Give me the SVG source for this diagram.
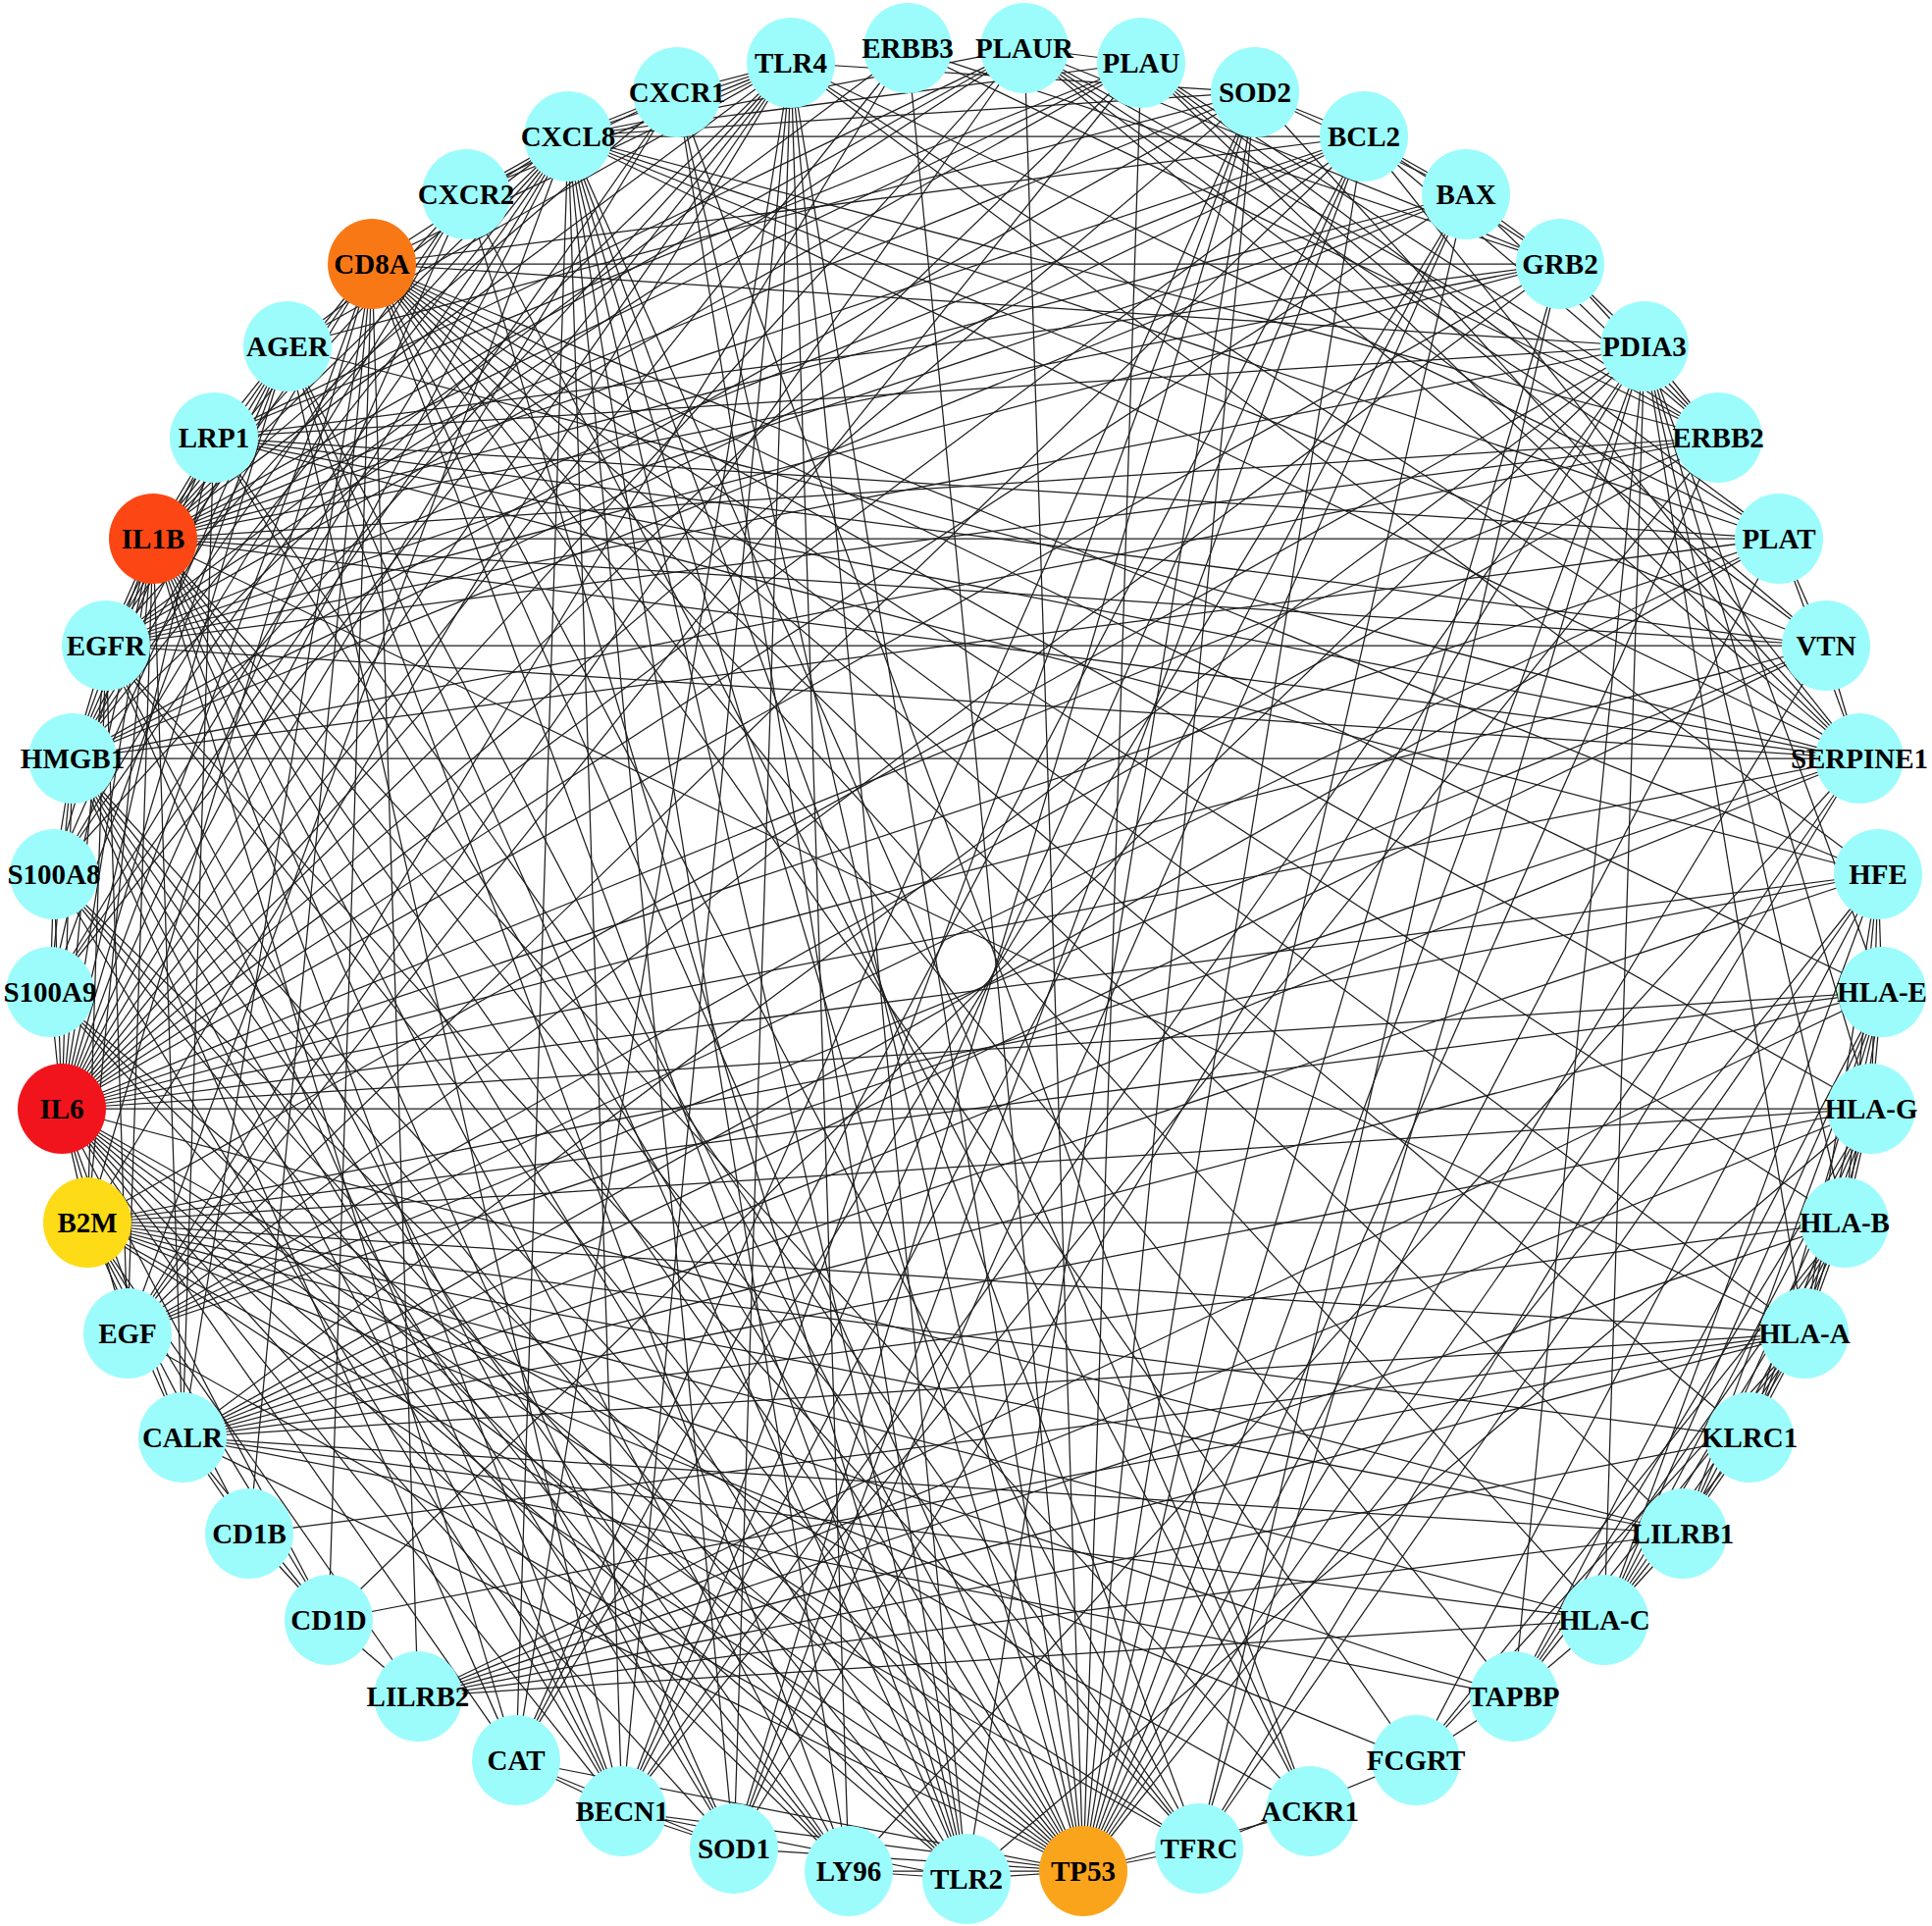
<svg xmlns="http://www.w3.org/2000/svg" width="1969" height="1963" viewBox="0 0 1969 1963">
<style>
#edges line{stroke:#1e1e1e;stroke-width:1.25;fill:none}
.node ellipse{fill:#9cfcfc;stroke:none}
.node text{font-family:"Liberation Serif","Times New Roman",serif;font-weight:bold;font-size:29px;text-anchor:middle;fill:#000}
</style>
<rect width="1969" height="1963" fill="#fff"/>
<g id="edges">
<line x1="63" y1="1130" x2="156" y2="549"/>
<line x1="63" y1="1130" x2="579" y2="139"/>
<line x1="63" y1="1130" x2="1104" y2="1907"/>
<line x1="63" y1="1130" x2="108" y2="658"/>
<line x1="63" y1="1130" x2="130" y2="1359"/>
<line x1="63" y1="1130" x2="806" y2="64"/>
<line x1="63" y1="1130" x2="985" y2="1915"/>
<line x1="63" y1="1130" x2="74" y2="773"/>
<line x1="63" y1="1130" x2="55" y2="891"/>
<line x1="63" y1="1130" x2="51" y2="1011"/>
<line x1="63" y1="1130" x2="1279" y2="94"/>
<line x1="63" y1="1130" x2="748" y2="1884"/>
<line x1="63" y1="1130" x2="526" y2="1794"/>
<line x1="63" y1="1130" x2="1390" y2="139"/>
<line x1="63" y1="1130" x2="1494" y2="198"/>
<line x1="63" y1="1130" x2="634" y2="1846"/>
<line x1="63" y1="1130" x2="1163" y2="64"/>
<line x1="63" y1="1130" x2="1044" y2="49"/>
<line x1="63" y1="1130" x2="1895" y2="773"/>
<line x1="63" y1="1130" x2="1813" y2="549"/>
<line x1="63" y1="1130" x2="1861" y2="658"/>
<line x1="63" y1="1130" x2="293" y2="353"/>
<line x1="63" y1="1130" x2="690" y2="94"/>
<line x1="63" y1="1130" x2="475" y2="198"/>
<line x1="63" y1="1130" x2="379" y2="269"/>
<line x1="63" y1="1130" x2="89" y2="1246"/>
<line x1="63" y1="1130" x2="218" y2="446"/>
<line x1="63" y1="1130" x2="1751" y2="446"/>
<line x1="63" y1="1130" x2="865" y2="1907"/>
<line x1="63" y1="1130" x2="1222" y2="1884"/>
<line x1="63" y1="1130" x2="1914" y2="891"/>
<line x1="63" y1="1130" x2="1590" y2="269"/>
<line x1="63" y1="1130" x2="1335" y2="1846"/>
<line x1="63" y1="1130" x2="1907" y2="1130"/>
<line x1="63" y1="1130" x2="186" y2="1465"/>
<line x1="63" y1="1130" x2="925" y2="49"/>
<line x1="63" y1="1130" x2="1918" y2="1011"/>
<line x1="63" y1="1130" x2="1715" y2="1563"/>
<line x1="63" y1="1130" x2="335" y2="1651"/>
<line x1="156" y1="549" x2="579" y2="139"/>
<line x1="156" y1="549" x2="1104" y2="1907"/>
<line x1="156" y1="549" x2="108" y2="658"/>
<line x1="156" y1="549" x2="130" y2="1359"/>
<line x1="156" y1="549" x2="806" y2="64"/>
<line x1="156" y1="549" x2="985" y2="1915"/>
<line x1="156" y1="549" x2="74" y2="773"/>
<line x1="156" y1="549" x2="55" y2="891"/>
<line x1="156" y1="549" x2="51" y2="1011"/>
<line x1="156" y1="549" x2="1279" y2="94"/>
<line x1="156" y1="549" x2="748" y2="1884"/>
<line x1="156" y1="549" x2="526" y2="1794"/>
<line x1="156" y1="549" x2="1390" y2="139"/>
<line x1="156" y1="549" x2="1494" y2="198"/>
<line x1="156" y1="549" x2="634" y2="1846"/>
<line x1="156" y1="549" x2="1163" y2="64"/>
<line x1="156" y1="549" x2="1044" y2="49"/>
<line x1="156" y1="549" x2="1895" y2="773"/>
<line x1="156" y1="549" x2="1813" y2="549"/>
<line x1="156" y1="549" x2="293" y2="353"/>
<line x1="156" y1="549" x2="690" y2="94"/>
<line x1="156" y1="549" x2="475" y2="198"/>
<line x1="156" y1="549" x2="379" y2="269"/>
<line x1="156" y1="549" x2="89" y2="1246"/>
<line x1="156" y1="549" x2="218" y2="446"/>
<line x1="156" y1="549" x2="865" y2="1907"/>
<line x1="156" y1="549" x2="1335" y2="1846"/>
<line x1="156" y1="549" x2="1590" y2="269"/>
<line x1="156" y1="549" x2="1861" y2="658"/>
<line x1="156" y1="549" x2="1839" y2="1359"/>
<line x1="156" y1="549" x2="186" y2="1465"/>
<line x1="156" y1="549" x2="1751" y2="446"/>
<line x1="156" y1="549" x2="1222" y2="1884"/>
<line x1="379" y1="269" x2="89" y2="1246"/>
<line x1="379" y1="269" x2="1839" y2="1359"/>
<line x1="379" y1="269" x2="1880" y2="1246"/>
<line x1="379" y1="269" x2="1635" y2="1651"/>
<line x1="379" y1="269" x2="1918" y2="1011"/>
<line x1="379" y1="269" x2="1907" y2="1130"/>
<line x1="379" y1="269" x2="1783" y2="1465"/>
<line x1="379" y1="269" x2="1715" y2="1563"/>
<line x1="379" y1="269" x2="426" y2="1729"/>
<line x1="379" y1="269" x2="1543" y2="1729"/>
<line x1="379" y1="269" x2="1104" y2="1907"/>
<line x1="379" y1="269" x2="1590" y2="269"/>
<line x1="379" y1="269" x2="579" y2="139"/>
<line x1="379" y1="269" x2="186" y2="1465"/>
<line x1="379" y1="269" x2="1676" y2="353"/>
<line x1="379" y1="269" x2="335" y2="1651"/>
<line x1="379" y1="269" x2="254" y2="1563"/>
<line x1="379" y1="269" x2="1914" y2="891"/>
<line x1="379" y1="269" x2="806" y2="64"/>
<line x1="379" y1="269" x2="985" y2="1915"/>
<line x1="379" y1="269" x2="1390" y2="139"/>
<line x1="379" y1="269" x2="108" y2="658"/>
<line x1="379" y1="269" x2="1443" y2="1794"/>
<line x1="379" y1="269" x2="74" y2="773"/>
<line x1="379" y1="269" x2="1222" y2="1884"/>
<line x1="1104" y1="1907" x2="1390" y2="139"/>
<line x1="1104" y1="1907" x2="1494" y2="198"/>
<line x1="1104" y1="1907" x2="1279" y2="94"/>
<line x1="1104" y1="1907" x2="748" y2="1884"/>
<line x1="1104" y1="1907" x2="526" y2="1794"/>
<line x1="1104" y1="1907" x2="634" y2="1846"/>
<line x1="1104" y1="1907" x2="108" y2="658"/>
<line x1="1104" y1="1907" x2="130" y2="1359"/>
<line x1="1104" y1="1907" x2="1751" y2="446"/>
<line x1="1104" y1="1907" x2="925" y2="49"/>
<line x1="1104" y1="1907" x2="74" y2="773"/>
<line x1="1104" y1="1907" x2="579" y2="139"/>
<line x1="1104" y1="1907" x2="1163" y2="64"/>
<line x1="1104" y1="1907" x2="1044" y2="49"/>
<line x1="1104" y1="1907" x2="1895" y2="773"/>
<line x1="1104" y1="1907" x2="806" y2="64"/>
<line x1="1104" y1="1907" x2="985" y2="1915"/>
<line x1="1104" y1="1907" x2="89" y2="1246"/>
<line x1="1104" y1="1907" x2="1590" y2="269"/>
<line x1="1104" y1="1907" x2="1222" y2="1884"/>
<line x1="1104" y1="1907" x2="1813" y2="549"/>
<line x1="1104" y1="1907" x2="1861" y2="658"/>
<line x1="1104" y1="1907" x2="55" y2="891"/>
<line x1="1104" y1="1907" x2="51" y2="1011"/>
<line x1="1104" y1="1907" x2="218" y2="446"/>
<line x1="1104" y1="1907" x2="293" y2="353"/>
<line x1="1104" y1="1907" x2="1914" y2="891"/>
<line x1="1104" y1="1907" x2="186" y2="1465"/>
<line x1="1104" y1="1907" x2="1676" y2="353"/>
<line x1="1104" y1="1907" x2="865" y2="1907"/>
<line x1="89" y1="1246" x2="1839" y2="1359"/>
<line x1="89" y1="1246" x2="1880" y2="1246"/>
<line x1="89" y1="1246" x2="1635" y2="1651"/>
<line x1="89" y1="1246" x2="1918" y2="1011"/>
<line x1="89" y1="1246" x2="1907" y2="1130"/>
<line x1="89" y1="1246" x2="1914" y2="891"/>
<line x1="89" y1="1246" x2="254" y2="1563"/>
<line x1="89" y1="1246" x2="335" y2="1651"/>
<line x1="89" y1="1246" x2="1543" y2="1729"/>
<line x1="89" y1="1246" x2="186" y2="1465"/>
<line x1="89" y1="1246" x2="1676" y2="353"/>
<line x1="89" y1="1246" x2="1715" y2="1563"/>
<line x1="89" y1="1246" x2="426" y2="1729"/>
<line x1="89" y1="1246" x2="1783" y2="1465"/>
<line x1="89" y1="1246" x2="1443" y2="1794"/>
<line x1="89" y1="1246" x2="1222" y2="1884"/>
<line x1="89" y1="1246" x2="108" y2="658"/>
<line x1="89" y1="1246" x2="806" y2="64"/>
<line x1="1839" y1="1359" x2="1880" y2="1246"/>
<line x1="1839" y1="1359" x2="1635" y2="1651"/>
<line x1="1839" y1="1359" x2="1918" y2="1011"/>
<line x1="1839" y1="1359" x2="1907" y2="1130"/>
<line x1="1839" y1="1359" x2="1543" y2="1729"/>
<line x1="1839" y1="1359" x2="186" y2="1465"/>
<line x1="1839" y1="1359" x2="1676" y2="353"/>
<line x1="1839" y1="1359" x2="1715" y2="1563"/>
<line x1="1839" y1="1359" x2="426" y2="1729"/>
<line x1="1839" y1="1359" x2="1783" y2="1465"/>
<line x1="1839" y1="1359" x2="1914" y2="891"/>
<line x1="1839" y1="1359" x2="1443" y2="1794"/>
<line x1="1839" y1="1359" x2="335" y2="1651"/>
<line x1="1880" y1="1246" x2="1635" y2="1651"/>
<line x1="1880" y1="1246" x2="1918" y2="1011"/>
<line x1="1880" y1="1246" x2="1907" y2="1130"/>
<line x1="1880" y1="1246" x2="1543" y2="1729"/>
<line x1="1880" y1="1246" x2="186" y2="1465"/>
<line x1="1880" y1="1246" x2="1676" y2="353"/>
<line x1="1880" y1="1246" x2="1715" y2="1563"/>
<line x1="1880" y1="1246" x2="426" y2="1729"/>
<line x1="1880" y1="1246" x2="1783" y2="1465"/>
<line x1="1880" y1="1246" x2="1914" y2="891"/>
<line x1="1880" y1="1246" x2="1443" y2="1794"/>
<line x1="1635" y1="1651" x2="1918" y2="1011"/>
<line x1="1635" y1="1651" x2="1907" y2="1130"/>
<line x1="1635" y1="1651" x2="1543" y2="1729"/>
<line x1="1635" y1="1651" x2="186" y2="1465"/>
<line x1="1635" y1="1651" x2="1676" y2="353"/>
<line x1="1635" y1="1651" x2="1715" y2="1563"/>
<line x1="1635" y1="1651" x2="426" y2="1729"/>
<line x1="1635" y1="1651" x2="1783" y2="1465"/>
<line x1="1635" y1="1651" x2="1914" y2="891"/>
<line x1="1918" y1="1011" x2="1907" y2="1130"/>
<line x1="1918" y1="1011" x2="1543" y2="1729"/>
<line x1="1918" y1="1011" x2="186" y2="1465"/>
<line x1="1918" y1="1011" x2="1676" y2="353"/>
<line x1="1918" y1="1011" x2="1715" y2="1563"/>
<line x1="1918" y1="1011" x2="426" y2="1729"/>
<line x1="1918" y1="1011" x2="1783" y2="1465"/>
<line x1="1918" y1="1011" x2="1914" y2="891"/>
<line x1="1907" y1="1130" x2="1543" y2="1729"/>
<line x1="1907" y1="1130" x2="186" y2="1465"/>
<line x1="1907" y1="1130" x2="1676" y2="353"/>
<line x1="1907" y1="1130" x2="1715" y2="1563"/>
<line x1="1907" y1="1130" x2="426" y2="1729"/>
<line x1="1907" y1="1130" x2="1783" y2="1465"/>
<line x1="1907" y1="1130" x2="1914" y2="891"/>
<line x1="1543" y1="1729" x2="186" y2="1465"/>
<line x1="1543" y1="1729" x2="1676" y2="353"/>
<line x1="1543" y1="1729" x2="1443" y2="1794"/>
<line x1="186" y1="1465" x2="1676" y2="353"/>
<line x1="186" y1="1465" x2="218" y2="446"/>
<line x1="1715" y1="1563" x2="426" y2="1729"/>
<line x1="1715" y1="1563" x2="1783" y2="1465"/>
<line x1="1914" y1="891" x2="1222" y2="1884"/>
<line x1="1914" y1="891" x2="1443" y2="1794"/>
<line x1="335" y1="1651" x2="254" y2="1563"/>
<line x1="1222" y1="1884" x2="1443" y2="1794"/>
<line x1="108" y1="658" x2="130" y2="1359"/>
<line x1="108" y1="658" x2="1751" y2="446"/>
<line x1="108" y1="658" x2="925" y2="49"/>
<line x1="108" y1="658" x2="1590" y2="269"/>
<line x1="108" y1="658" x2="1044" y2="49"/>
<line x1="108" y1="658" x2="1163" y2="64"/>
<line x1="108" y1="658" x2="1895" y2="773"/>
<line x1="108" y1="658" x2="1390" y2="139"/>
<line x1="108" y1="658" x2="1494" y2="198"/>
<line x1="108" y1="658" x2="74" y2="773"/>
<line x1="108" y1="658" x2="579" y2="139"/>
<line x1="108" y1="658" x2="634" y2="1846"/>
<line x1="108" y1="658" x2="1861" y2="658"/>
<line x1="108" y1="658" x2="218" y2="446"/>
<line x1="108" y1="658" x2="1222" y2="1884"/>
<line x1="108" y1="658" x2="293" y2="353"/>
<line x1="130" y1="1359" x2="1751" y2="446"/>
<line x1="130" y1="1359" x2="925" y2="49"/>
<line x1="130" y1="1359" x2="1590" y2="269"/>
<line x1="130" y1="1359" x2="1163" y2="64"/>
<line x1="130" y1="1359" x2="1044" y2="49"/>
<line x1="130" y1="1359" x2="1895" y2="773"/>
<line x1="130" y1="1359" x2="579" y2="139"/>
<line x1="130" y1="1359" x2="1813" y2="549"/>
<line x1="130" y1="1359" x2="1390" y2="139"/>
<line x1="1751" y1="446" x2="925" y2="49"/>
<line x1="1751" y1="446" x2="1590" y2="269"/>
<line x1="1751" y1="446" x2="1390" y2="139"/>
<line x1="925" y1="49" x2="1590" y2="269"/>
<line x1="1163" y1="64" x2="1044" y2="49"/>
<line x1="1163" y1="64" x2="1895" y2="773"/>
<line x1="1163" y1="64" x2="1813" y2="549"/>
<line x1="1163" y1="64" x2="1861" y2="658"/>
<line x1="1163" y1="64" x2="218" y2="446"/>
<line x1="1163" y1="64" x2="579" y2="139"/>
<line x1="1044" y1="49" x2="1895" y2="773"/>
<line x1="1044" y1="49" x2="1813" y2="549"/>
<line x1="1044" y1="49" x2="1861" y2="658"/>
<line x1="1044" y1="49" x2="218" y2="446"/>
<line x1="1044" y1="49" x2="579" y2="139"/>
<line x1="1895" y1="773" x2="1813" y2="549"/>
<line x1="1895" y1="773" x2="1861" y2="658"/>
<line x1="1895" y1="773" x2="218" y2="446"/>
<line x1="1895" y1="773" x2="74" y2="773"/>
<line x1="1895" y1="773" x2="579" y2="139"/>
<line x1="1813" y1="549" x2="1861" y2="658"/>
<line x1="1813" y1="549" x2="218" y2="446"/>
<line x1="1861" y1="658" x2="218" y2="446"/>
<line x1="1390" y1="139" x2="1494" y2="198"/>
<line x1="1390" y1="139" x2="634" y2="1846"/>
<line x1="1390" y1="139" x2="1279" y2="94"/>
<line x1="1390" y1="139" x2="748" y2="1884"/>
<line x1="1390" y1="139" x2="526" y2="1794"/>
<line x1="1390" y1="139" x2="74" y2="773"/>
<line x1="1390" y1="139" x2="579" y2="139"/>
<line x1="1494" y1="198" x2="634" y2="1846"/>
<line x1="1494" y1="198" x2="1279" y2="94"/>
<line x1="1494" y1="198" x2="748" y2="1884"/>
<line x1="1494" y1="198" x2="526" y2="1794"/>
<line x1="1494" y1="198" x2="74" y2="773"/>
<line x1="1279" y1="94" x2="748" y2="1884"/>
<line x1="1279" y1="94" x2="526" y2="1794"/>
<line x1="1279" y1="94" x2="74" y2="773"/>
<line x1="1279" y1="94" x2="634" y2="1846"/>
<line x1="1279" y1="94" x2="579" y2="139"/>
<line x1="748" y1="1884" x2="526" y2="1794"/>
<line x1="748" y1="1884" x2="634" y2="1846"/>
<line x1="526" y1="1794" x2="634" y2="1846"/>
<line x1="634" y1="1846" x2="74" y2="773"/>
<line x1="634" y1="1846" x2="806" y2="64"/>
<line x1="74" y1="773" x2="293" y2="353"/>
<line x1="74" y1="773" x2="806" y2="64"/>
<line x1="74" y1="773" x2="985" y2="1915"/>
<line x1="74" y1="773" x2="55" y2="891"/>
<line x1="74" y1="773" x2="51" y2="1011"/>
<line x1="74" y1="773" x2="579" y2="139"/>
<line x1="74" y1="773" x2="865" y2="1907"/>
<line x1="55" y1="891" x2="51" y2="1011"/>
<line x1="55" y1="891" x2="293" y2="353"/>
<line x1="55" y1="891" x2="806" y2="64"/>
<line x1="55" y1="891" x2="579" y2="139"/>
<line x1="55" y1="891" x2="865" y2="1907"/>
<line x1="51" y1="1011" x2="293" y2="353"/>
<line x1="51" y1="1011" x2="806" y2="64"/>
<line x1="51" y1="1011" x2="579" y2="139"/>
<line x1="293" y1="353" x2="806" y2="64"/>
<line x1="293" y1="353" x2="985" y2="1915"/>
<line x1="293" y1="353" x2="579" y2="139"/>
<line x1="806" y1="64" x2="985" y2="1915"/>
<line x1="806" y1="64" x2="865" y2="1907"/>
<line x1="806" y1="64" x2="579" y2="139"/>
<line x1="806" y1="64" x2="475" y2="198"/>
<line x1="806" y1="64" x2="690" y2="94"/>
<line x1="985" y1="1915" x2="865" y2="1907"/>
<line x1="985" y1="1915" x2="579" y2="139"/>
<line x1="579" y1="139" x2="690" y2="94"/>
<line x1="579" y1="139" x2="475" y2="198"/>
<line x1="579" y1="139" x2="1335" y2="1846"/>
<line x1="690" y1="94" x2="475" y2="198"/>
<line x1="690" y1="94" x2="1335" y2="1846"/>
<line x1="475" y1="198" x2="1335" y2="1846"/>
<line x1="1676" y1="353" x2="218" y2="446"/>
<line x1="1676" y1="353" x2="108" y2="658"/>
<line x1="1676" y1="353" x2="1751" y2="446"/>
<line x1="1676" y1="353" x2="1590" y2="269"/>
<line x1="1676" y1="353" x2="1222" y2="1884"/>
<line x1="1676" y1="353" x2="335" y2="1651"/>
<line x1="1676" y1="353" x2="748" y2="1884"/>
<line x1="1676" y1="353" x2="634" y2="1846"/>
<line x1="1751" y1="446" x2="1163" y2="64"/>
<line x1="1751" y1="446" x2="579" y2="139"/>
<line x1="1751" y1="446" x2="1494" y2="198"/>
<line x1="1751" y1="446" x2="634" y2="1846"/>
<line x1="1751" y1="446" x2="74" y2="773"/>
<line x1="1751" y1="446" x2="1044" y2="49"/>
<line x1="1813" y1="549" x2="579" y2="139"/>
<line x1="1813" y1="549" x2="74" y2="773"/>
<line x1="1813" y1="549" x2="806" y2="64"/>
<line x1="1813" y1="549" x2="186" y2="1465"/>
<line x1="1861" y1="658" x2="579" y2="139"/>
<line x1="1861" y1="658" x2="130" y2="1359"/>
<line x1="1861" y1="658" x2="186" y2="1465"/>
<line x1="1895" y1="773" x2="806" y2="64"/>
<line x1="1895" y1="773" x2="1279" y2="94"/>
<line x1="1895" y1="773" x2="1222" y2="1884"/>
<line x1="1895" y1="773" x2="1390" y2="139"/>
<line x1="1895" y1="773" x2="865" y2="1907"/>
<line x1="1895" y1="773" x2="186" y2="1465"/>
<line x1="985" y1="1915" x2="55" y2="891"/>
<line x1="985" y1="1915" x2="51" y2="1011"/>
<line x1="985" y1="1915" x2="690" y2="94"/>
<line x1="985" y1="1915" x2="475" y2="198"/>
<line x1="985" y1="1915" x2="634" y2="1846"/>
<line x1="985" y1="1915" x2="1279" y2="94"/>
<line x1="985" y1="1915" x2="1907" y2="1130"/>
<line x1="865" y1="1907" x2="51" y2="1011"/>
<line x1="865" y1="1907" x2="293" y2="353"/>
<line x1="865" y1="1907" x2="579" y2="139"/>
<line x1="748" y1="1884" x2="579" y2="139"/>
<line x1="748" y1="1884" x2="74" y2="773"/>
<line x1="748" y1="1884" x2="806" y2="64"/>
<line x1="748" y1="1884" x2="108" y2="658"/>
<line x1="526" y1="1794" x2="579" y2="139"/>
<line x1="526" y1="1794" x2="74" y2="773"/>
<line x1="526" y1="1794" x2="806" y2="64"/>
<line x1="634" y1="1846" x2="579" y2="139"/>
<line x1="634" y1="1846" x2="55" y2="891"/>
<line x1="426" y1="1729" x2="1783" y2="1465"/>
<line x1="426" y1="1729" x2="335" y2="1651"/>
<line x1="335" y1="1651" x2="186" y2="1465"/>
<line x1="254" y1="1563" x2="1839" y2="1359"/>
<line x1="254" y1="1563" x2="186" y2="1465"/>
<line x1="186" y1="1465" x2="1914" y2="891"/>
<line x1="186" y1="1465" x2="1715" y2="1563"/>
<line x1="579" y1="139" x2="1222" y2="1884"/>
<line x1="475" y1="198" x2="74" y2="773"/>
<line x1="475" y1="198" x2="55" y2="891"/>
<line x1="690" y1="94" x2="1104" y2="1907"/>
<line x1="690" y1="94" x2="51" y2="1011"/>
<line x1="293" y1="353" x2="1279" y2="94"/>
<line x1="293" y1="353" x2="634" y2="1846"/>
<line x1="293" y1="353" x2="218" y2="446"/>
<line x1="293" y1="353" x2="1895" y2="773"/>
<line x1="218" y1="446" x2="74" y2="773"/>
<line x1="218" y1="446" x2="1914" y2="891"/>
<line x1="218" y1="446" x2="1222" y2="1884"/>
<line x1="806" y1="64" x2="1279" y2="94"/>
<line x1="806" y1="64" x2="1914" y2="891"/>
<line x1="1590" y1="269" x2="1390" y2="139"/>
<line x1="1590" y1="269" x2="218" y2="446"/>
<line x1="1590" y1="269" x2="1222" y2="1884"/>
<line x1="1590" y1="269" x2="1044" y2="49"/>
<line x1="1590" y1="269" x2="1494" y2="198"/>
<line x1="1335" y1="1846" x2="1104" y2="1907"/>
</g>
<g id="n-PLAUR" class="node"><ellipse cx="1044" cy="49" rx="45" ry="46"/><text x="1044" y="59">PLAUR</text></g>
<g id="n-PLAU" class="node"><ellipse cx="1163" cy="64" rx="45" ry="46"/><text x="1163" y="74">PLAU</text></g>
<g id="n-SOD2" class="node"><ellipse cx="1279" cy="94" rx="45" ry="46"/><text x="1279" y="104">SOD2</text></g>
<g id="n-BCL2" class="node"><ellipse cx="1390" cy="139" rx="45" ry="46"/><text x="1390" y="149">BCL2</text></g>
<g id="n-BAX" class="node"><ellipse cx="1494" cy="198" rx="45" ry="46"/><text x="1494" y="208">BAX</text></g>
<g id="n-GRB2" class="node"><ellipse cx="1590" cy="269" rx="45" ry="46"/><text x="1590" y="279">GRB2</text></g>
<g id="n-PDIA3" class="node"><ellipse cx="1676" cy="353" rx="45" ry="46"/><text x="1676" y="363">PDIA3</text></g>
<g id="n-ERBB2" class="node"><ellipse cx="1751" cy="446" rx="45" ry="46"/><text x="1751" y="456">ERBB2</text></g>
<g id="n-PLAT" class="node"><ellipse cx="1813" cy="549" rx="45" ry="46"/><text x="1813" y="559">PLAT</text></g>
<g id="n-VTN" class="node"><ellipse cx="1861" cy="658" rx="45" ry="46"/><text x="1861" y="668">VTN</text></g>
<g id="n-SERPINE1" class="node"><ellipse cx="1895" cy="773" rx="45" ry="46"/><text x="1895" y="783">SERPINE1</text></g>
<g id="n-HFE" class="node"><ellipse cx="1914" cy="891" rx="45" ry="46"/><text x="1914" y="901">HFE</text></g>
<g id="n-HLA-E" class="node"><ellipse cx="1918" cy="1011" rx="45" ry="46"/><text x="1918" y="1021">HLA-E</text></g>
<g id="n-HLA-G" class="node"><ellipse cx="1907" cy="1130" rx="45" ry="46"/><text x="1907" y="1140">HLA-G</text></g>
<g id="n-HLA-B" class="node"><ellipse cx="1880" cy="1246" rx="45" ry="46"/><text x="1880" y="1256">HLA-B</text></g>
<g id="n-HLA-A" class="node"><ellipse cx="1839" cy="1359" rx="45" ry="46"/><text x="1839" y="1369">HLA-A</text></g>
<g id="n-KLRC1" class="node"><ellipse cx="1783" cy="1465" rx="45" ry="46"/><text x="1783" y="1475">KLRC1</text></g>
<g id="n-LILRB1" class="node"><ellipse cx="1715" cy="1563" rx="45" ry="46"/><text x="1715" y="1573">LILRB1</text></g>
<g id="n-HLA-C" class="node"><ellipse cx="1635" cy="1651" rx="45" ry="46"/><text x="1635" y="1661">HLA-C</text></g>
<g id="n-TAPBP" class="node"><ellipse cx="1543" cy="1729" rx="45" ry="46"/><text x="1543" y="1739">TAPBP</text></g>
<g id="n-FCGRT" class="node"><ellipse cx="1443" cy="1794" rx="45" ry="46"/><text x="1443" y="1804">FCGRT</text></g>
<g id="n-ACKR1" class="node"><ellipse cx="1335" cy="1846" rx="45" ry="46"/><text x="1335" y="1856">ACKR1</text></g>
<g id="n-TFRC" class="node"><ellipse cx="1222" cy="1884" rx="45" ry="46"/><text x="1222" y="1894">TFRC</text></g>
<g id="n-TP53" class="node"><ellipse cx="1104" cy="1907" rx="45" ry="46" style="fill:#faa41c"/><text x="1104" y="1917">TP53</text></g>
<g id="n-TLR2" class="node"><ellipse cx="985" cy="1915" rx="45" ry="46"/><text x="985" y="1925">TLR2</text></g>
<g id="n-LY96" class="node"><ellipse cx="865" cy="1907" rx="45" ry="46"/><text x="865" y="1917">LY96</text></g>
<g id="n-SOD1" class="node"><ellipse cx="748" cy="1884" rx="45" ry="46"/><text x="748" y="1894">SOD1</text></g>
<g id="n-BECN1" class="node"><ellipse cx="634" cy="1846" rx="45" ry="46"/><text x="634" y="1856">BECN1</text></g>
<g id="n-CAT" class="node"><ellipse cx="526" cy="1794" rx="45" ry="46"/><text x="526" y="1804">CAT</text></g>
<g id="n-LILRB2" class="node"><ellipse cx="426" cy="1729" rx="45" ry="46"/><text x="426" y="1739">LILRB2</text></g>
<g id="n-CD1D" class="node"><ellipse cx="335" cy="1651" rx="45" ry="46"/><text x="335" y="1661">CD1D</text></g>
<g id="n-CD1B" class="node"><ellipse cx="254" cy="1563" rx="45" ry="46"/><text x="254" y="1573">CD1B</text></g>
<g id="n-CALR" class="node"><ellipse cx="186" cy="1465" rx="45" ry="46"/><text x="186" y="1475">CALR</text></g>
<g id="n-EGF" class="node"><ellipse cx="130" cy="1359" rx="45" ry="46"/><text x="130" y="1369">EGF</text></g>
<g id="n-B2M" class="node"><ellipse cx="89" cy="1246" rx="45" ry="46" style="fill:#fddb16"/><text x="89" y="1256">B2M</text></g>
<g id="n-IL6" class="node"><ellipse cx="63" cy="1130" rx="45" ry="46" style="fill:#f2141c"/><text x="63" y="1140">IL6</text></g>
<g id="n-S100A9" class="node"><ellipse cx="51" cy="1011" rx="45" ry="46"/><text x="51" y="1021">S100A9</text></g>
<g id="n-S100A8" class="node"><ellipse cx="55" cy="891" rx="45" ry="46"/><text x="55" y="901">S100A8</text></g>
<g id="n-HMGB1" class="node"><ellipse cx="74" cy="773" rx="45" ry="46"/><text x="74" y="783">HMGB1</text></g>
<g id="n-EGFR" class="node"><ellipse cx="108" cy="658" rx="45" ry="46"/><text x="108" y="668">EGFR</text></g>
<g id="n-IL1B" class="node"><ellipse cx="156" cy="549" rx="45" ry="46" style="fill:#fc4614"/><text x="156" y="559">IL1B</text></g>
<g id="n-LRP1" class="node"><ellipse cx="218" cy="446" rx="45" ry="46"/><text x="218" y="456">LRP1</text></g>
<g id="n-AGER" class="node"><ellipse cx="293" cy="353" rx="45" ry="46"/><text x="293" y="363">AGER</text></g>
<g id="n-CD8A" class="node"><ellipse cx="379" cy="269" rx="45" ry="46" style="fill:#f97816"/><text x="379" y="279">CD8A</text></g>
<g id="n-CXCR2" class="node"><ellipse cx="475" cy="198" rx="45" ry="46"/><text x="475" y="208">CXCR2</text></g>
<g id="n-CXCL8" class="node"><ellipse cx="579" cy="139" rx="45" ry="46"/><text x="579" y="149">CXCL8</text></g>
<g id="n-CXCR1" class="node"><ellipse cx="690" cy="94" rx="45" ry="46"/><text x="690" y="104">CXCR1</text></g>
<g id="n-TLR4" class="node"><ellipse cx="806" cy="64" rx="45" ry="46"/><text x="806" y="74">TLR4</text></g>
<g id="n-ERBB3" class="node"><ellipse cx="925" cy="49" rx="45" ry="46"/><text x="925" y="59">ERBB3</text></g>
</svg>
